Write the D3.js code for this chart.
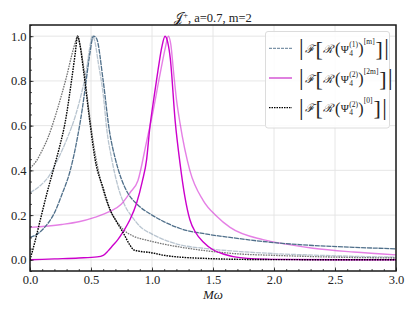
<!DOCTYPE html>
<html>
<head>
<meta charset="utf-8">
<script src="https://cdn.jsdelivr.net/npm/d3@7"></script>
<style>
body { margin: 0; background: #fff; }
svg { display: block; }
text { font-family: "Liberation Serif", "Times New Roman", serif; fill: #222; }
</style>
</head>
<body>
<div id="chart"></div>
<script>
// values (x = M omega, y = normalised amplitude)
var blueDarkX = [0, 0.06, 0.12, 0.2, 0.26, 0.33, 0.39, 0.43, 0.46, 0.49, 0.52, 0.545, 0.6, 0.65, 0.7, 0.75, 0.8, 0.875, 1.0, 1.1, 1.23, 1.45, 1.64, 1.91, 2.32, 2.65, 3.0];
var blueDarkY = [0.10, 0.115, 0.145, 0.21, 0.29, 0.40, 0.55, 0.68, 0.80, 0.92, 1.0, 0.99, 0.80, 0.58, 0.45, 0.36, 0.30, 0.25, 0.20, 0.17, 0.14, 0.115, 0.10, 0.082, 0.064, 0.056, 0.049];

var blueLightX = [0, 0.08, 0.15, 0.22, 0.31, 0.37, 0.42, 0.46, 0.49, 0.51, 0.53, 0.56, 0.6, 0.63, 0.67, 0.72, 0.78, 0.84, 0.9, 1.0, 1.1, 1.23, 1.45, 1.72, 2.0, 2.5, 3.0];
var blueLightY = [0.30, 0.33, 0.37, 0.44, 0.55, 0.64, 0.74, 0.84, 0.95, 1.0, 0.98, 0.88, 0.74, 0.58, 0.45, 0.33, 0.24, 0.19, 0.15, 0.115, 0.09, 0.067, 0.05, 0.037, 0.028, 0.018, 0.012];

var magDarkX = [0, 0.2, 0.4, 0.55, 0.6, 0.64, 0.68, 0.72, 0.765, 0.82, 0.874, 0.92, 0.956, 0.98, 1.02, 1.05, 1.08, 1.107, 1.13, 1.15, 1.19, 1.23, 1.27, 1.31, 1.36, 1.42, 1.5, 1.59, 1.72, 2.0, 2.5, 3.0];
var magDarkY = [0.0, 0.004, 0.008, 0.013, 0.02, 0.04, 0.065, 0.09, 0.127, 0.18, 0.254, 0.35, 0.449, 0.58, 0.74, 0.85, 0.95, 1.0, 0.97, 0.9, 0.62, 0.43, 0.28, 0.18, 0.12, 0.08, 0.045, 0.025, 0.01, 0.002, 0.0, 0.0];

var magLightX = [0, 0.26, 0.4, 0.53, 0.65, 0.75, 0.82, 0.885, 0.956, 1.0, 1.066, 1.11, 1.134, 1.155, 1.175, 1.2, 1.23, 1.31, 1.42, 1.53, 1.64, 1.91, 2.1, 2.32, 2.65, 3.0];
var magLightY = [0.145, 0.158, 0.17, 0.19, 0.215, 0.25, 0.30, 0.355, 0.53, 0.64, 0.83, 0.95, 1.0, 0.96, 0.85, 0.72, 0.61, 0.40, 0.265, 0.195, 0.145, 0.09, 0.07, 0.052, 0.035, 0.022];

var blackX = [0, 0.04, 0.085, 0.14, 0.19, 0.24, 0.29, 0.34, 0.37, 0.39, 0.41, 0.44, 0.49, 0.533, 0.6, 0.656, 0.71, 0.765, 0.82, 0.85, 0.9, 0.98, 1.1, 1.23, 1.45, 1.72, 2.0, 3.0];
var blackY = [0.0, 0.08, 0.18, 0.30, 0.40, 0.50, 0.62, 0.80, 0.92, 1.0, 0.96, 0.84, 0.62, 0.45, 0.32, 0.225, 0.17, 0.12, 0.065, 0.045, 0.038, 0.033, 0.02, 0.012, 0.006, 0.002, 0.001, 0.0];

var grayX = [0, 0.05, 0.1, 0.15, 0.2, 0.26, 0.3, 0.34, 0.37, 0.39, 0.41, 0.44, 0.48, 0.52, 0.56, 0.6, 0.65, 0.7, 0.765, 0.85, 0.956, 1.1, 1.23, 1.45, 1.72, 2.0, 2.5, 3.0];
var grayY = [0.41, 0.44, 0.49, 0.55, 0.63, 0.74, 0.82, 0.91, 0.97, 1.0, 0.96, 0.86, 0.68, 0.52, 0.40, 0.31, 0.23, 0.18, 0.135, 0.105, 0.088, 0.07, 0.057, 0.04, 0.026, 0.02, 0.012, 0.008];

var xTicks = [0, 0.5, 1.0, 1.5, 2.0, 2.5, 3.0];
var yTicks = [0, 0.2, 0.4, 0.6, 0.8, 1.0];
var xMinor = d3.range(0, 31).map(function (i) { return i / 10; });
var yMinor = d3.range(-1, 22).map(function (i) { return i / 20; });

var width = 415, height = 312;
var margin = { top: 25, right: 19, bottom: 41, left: 30 };
var serif = "'Liberation Serif', 'Times New Roman', serif";

var svg = d3.select("#chart").append("svg")
    .attr("width", width)
    .attr("height", height);

var x = d3.scaleLinear().domain([0, 3]).range([margin.left, width - margin.right]);
var y = d3.scaleLinear().domain([-0.05, 1.05]).range([height - margin.bottom, margin.top]);

// grid
svg.append("g").selectAll("line.gx")
    .data(xTicks).enter().append("line")
    .attr("x1", function (d) { return x(d); })
    .attr("x2", function (d) { return x(d); })
    .attr("y1", y.range()[0]).attr("y2", y.range()[1])
    .attr("stroke", "#e3e3e3").attr("stroke-width", 0.9);
svg.append("g").selectAll("line.gy")
    .data(yTicks).enter().append("line")
    .attr("y1", function (d) { return y(d); })
    .attr("y2", function (d) { return y(d); })
    .attr("x1", x.range()[0]).attr("x2", x.range()[1])
    .attr("stroke", "#e3e3e3").attr("stroke-width", 0.9);

svg.append("clipPath").attr("id", "clip")
    .append("rect")
    .attr("x", x.range()[0]).attr("y", y.range()[1])
    .attr("width", x.range()[1] - x.range()[0])
    .attr("height", y.range()[0] - y.range()[1]);

var line = d3.line()
    .x(function (d) { return x(d[0]); })
    .y(function (d) { return y(d[1]); })
    .curve(d3.curveMonotoneX);

var series = [
    { xs: blueLightX, ys: blueLightY, color: "#4f6f8a", op: 0.4, dash: "5,0.8", w: 1.3 },
    { xs: grayX, ys: grayY, color: "#000", op: 0.55, dash: "1.6,1", w: 1.3 },
    { xs: magLightX, ys: magLightY, color: "#cc00cc", op: 0.5, dash: null, w: 1.4 },
    { xs: blueDarkX, ys: blueDarkY, color: "#4f6f8a", op: 1, dash: "5,0.8", w: 1.3 },
    { xs: magDarkX, ys: magDarkY, color: "#cc00cc", op: 1, dash: null, w: 1.4 },
    { xs: blackX, ys: blackY, color: "#000", op: 1, dash: "1.6,1", w: 1.4 }
];

svg.append("g").attr("clip-path", "url(#clip)")
    .selectAll("path").data(series).enter().append("path")
    .attr("d", function (s) { return line(d3.zip(s.xs, s.ys)); })
    .attr("fill", "none")
    .attr("stroke", function (s) { return s.color; })
    .attr("stroke-opacity", function (s) { return s.op; })
    .attr("stroke-width", function (s) { return s.w; })
    .attr("stroke-dasharray", function (s) { return s.dash; });

// axes, ticks pointing in
var gx = svg.append("g").attr("transform", "translate(0," + y.range()[0] + ")")
    .call(d3.axisBottom(x).tickValues(xTicks).tickFormat(d3.format(".1f")).tickSize(-3.5).tickPadding(4.5));
var gxm = svg.append("g").attr("transform", "translate(0," + y.range()[0] + ")")
    .call(d3.axisBottom(x).tickValues(xMinor).tickFormat("").tickSize(-2));
var gy = svg.append("g").attr("transform", "translate(" + x.range()[0] + ",0)")
    .call(d3.axisLeft(y).tickValues(yTicks).tickFormat(d3.format(".1f")).tickSize(-3.5).tickPadding(3.5));
var gym = svg.append("g").attr("transform", "translate(" + x.range()[0] + ",0)")
    .call(d3.axisLeft(y).tickValues(yMinor).tickFormat("").tickSize(-2));

[gx, gxm, gy, gym].forEach(function (g) {
    g.attr("font-family", serif);
    g.select(".domain").remove();
    g.selectAll("line").attr("stroke", "#222").attr("stroke-width", 0.8);
    g.selectAll("text")
        .attr("font-family", serif)
        .style("font-size", "12.5px")
        .attr("fill", "#333");
});

// frame
svg.append("rect")
    .attr("x", x.range()[0]).attr("y", y.range()[1])
    .attr("width", x.range()[1] - x.range()[0])
    .attr("height", y.range()[0] - y.range()[1])
    .attr("fill", "none").attr("stroke", "#1a1a1a").attr("stroke-width", 1.5);

// axis label
svg.append("text")
    .attr("x", (x.range()[0] + x.range()[1]) / 2).attr("y", 299)
    .attr("text-anchor", "middle")
    .attr("font-family", serif)
    .style("font-size", "13px").style("font-style", "italic")
    .text("M\u03C9");

// title
var title = svg.append("text")
    .attr("x", (x.range()[0] + x.range()[1]) / 2).attr("y", 21.5)
    .attr("text-anchor", "middle")
    .attr("font-family", serif)
    .style("font-size", "12.5px");
title.append("tspan").text("\uD835\uDCA5");
title.append("tspan").attr("dy", -4).style("font-size", "8.5px").text("+");
title.append("tspan").attr("dy", 4).text(", a=0.7, m=2");

// legend
var legendItems = [
    { color: "#7d94a8", dash: "3,1", w: 1.3, sup: "(1)", pow: "[m]" },
    { color: "#d862d8", dash: null, w: 1.6, sup: "(2)", pow: "[2m]" },
    { color: "#000", dash: "1.5,1", w: 1.3, sup: "(2)", pow: "[0]" }
];

var lg = svg.append("g");
lg.append("rect")
    .attr("x", 265.5).attr("y", 31.5).attr("width", 124).attr("height", 96.5)
    .attr("rx", 2.5)
    .attr("fill", "#fff").attr("fill-opacity", 0.85)
    .attr("stroke", "#d8d8d8").attr("stroke-width", 0.9);

legendItems.forEach(function (it, i) {
    var cy = 48.3 + i * 29.7;
    lg.append("line")
        .attr("x1", 269).attr("x2", 292)
        .attr("y1", cy).attr("y2", cy)
        .attr("stroke", it.color).attr("stroke-width", it.w)
        .attr("stroke-dasharray", it.dash);

    var base = cy + 4.5;
    var pieces = [
        { t: "|", s: 23, dy: 2.5, gap: 1.5 },
        { t: "\u2131", s: 11.5, dy: 0, gap: 1.5, it: true },
        { t: "[", s: 22, dy: 3, gap: 0.5 },
        { t: "\u211B", s: 11.5, dy: 0, gap: 1.5, it: true },
        { t: "(", s: 16, dy: 1.5, gap: 0.5 },
        { t: "\u03A8", s: 11, dy: 0, gap: 0.3 },
        { t: it.sup, s: 7.5, dy: -5.5, sub: "4", gap: 0.3 },
        { t: ")", s: 16, dy: 1.5, gap: 0.3 },
        { t: it.pow, s: 7.5, dy: -9, gap: 0.8 },
        { t: "]", s: 22, dy: 3, gap: 1.5 },
        { t: "|", s: 23, dy: 2.5, gap: 0 }
    ];
    var px = 299;
    pieces.forEach(function (p) {
        var tx = lg.append("text")
            .attr("x", px).attr("y", base + p.dy)
            .attr("font-family", serif)
            .style("font-size", p.s + "px")
            .style("font-style", p.it ? "italic" : "normal")
            .attr("fill", "#333")
            .text(p.t);
        var wdt = tx.node().getComputedTextLength();
        if (p.sub) {
            var sb = lg.append("text")
                .attr("x", px).attr("y", base + 3)
                .attr("font-family", serif)
                .style("font-size", p.s + "px")
                .attr("fill", "#333")
                .text(p.sub);
            wdt = Math.max(wdt, sb.node().getComputedTextLength());
        }
        px += wdt + p.gap;
    });
});
</script>
</body>
</html>
